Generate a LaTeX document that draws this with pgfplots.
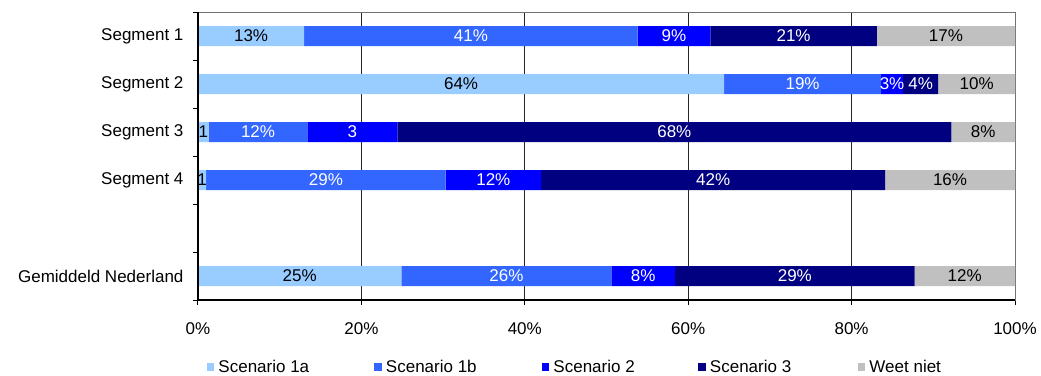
\documentclass[border=0pt]{standalone}
\usepackage{pgfplots}
\usepackage{pgfplotstable}
\pgfplotsset{compat=1.18}
\usepackage{fontspec}
\setmainfont{Liberation Sans}
\definecolor{cA}{HTML}{99CCFF}
\definecolor{cB}{HTML}{3366FF}
\definecolor{cC}{HTML}{0000FF}
\definecolor{cD}{HTML}{000080}
\definecolor{cE}{HTML}{C0C0C0}

\pgfplotstableread{
pos val lab
0 13.0 13\%
1 64.4 64\%
2 1.3 1
3 1.0 1
5 24.9 25\%
}\tA
\pgfplotstableread{
pos val lab
0 40.8 41\%
1 19.2 19\%
2 12.1 12\%
3 29.3 29\%
5 25.7 26\%
}\tB
\pgfplotstableread{
pos val lab
0 8.9 9\%
1 2.7 3\%
2 11.0 3
3 11.7 12\%
5 7.8 8\%
}\tC
\pgfplotstableread{
pos val lab
0 20.4 21\%
1 4.3 4\%
2 67.8 68\%
3 42.1 42\%
5 29.3 29\%
}\tD
\pgfplotstableread{
pos val lab
0 16.9 17\%
1 9.4 10\%
2 7.8 8\%
3 15.9 16\%
5 12.3 12\%
}\tE

\begin{document}
\begin{tikzpicture}[font=\fontsize{17}{20}\selectfont]
\useasboundingbox (-198pt,-75pt) rectangle (843pt,300pt);
\begin{axis}[
  at={(0pt,0pt)}, anchor=south west, scale only axis,
  width=817pt, height=288pt,
  xbar stacked, bar width=20pt,
  xmin=0, xmax=100, ymin=-0.5, ymax=5.5, y dir=reverse,
  xtick={0,20,...,100},
  xticklabels={0\%,20\%,40\%,60\%,80\%,100\%},
  xticklabel style={yshift=-14pt},
  ytick={-0.5,0.5,...,5.5}, yticklabels={},
  extra y ticks={0,1,2,3,4,5},
  extra y tick labels={Segment 1,Segment 2,Segment 3,Segment 4,,Gemiddeld Nederland},
  extra y tick style={major tick length=0pt, yticklabel style={xshift=-11pt}},
  tick align=outside, tick pos=left, major tick length=5pt,
  tick style={black, line width=1pt},
  xmajorgrids, major grid style={black!85, line width=0.8pt},
  axis line style={black!55, line width=0.6pt},
  point meta=explicit symbolic,
  nodes near coords,
  every node near coord/.append style={font=\fontsize{17}{20}\selectfont},
  legend style={at={(axis description cs:0.011,-0.2326)}, anchor=west,
    draw=none, fill=none, inner sep=0pt, outer sep=0pt,
    legend columns=5,
    nodes={inner sep=0pt},
    /tikz/every odd column/.append style={column sep=4pt}},
  legend image code/.code={\fill (0pt,-3.75pt) rectangle (7.5pt,3.75pt);},
  after end axis/.code={
    \draw[black, line width=1.6pt] (axis description cs:0,1) -- (axis description cs:0,0) -- (axis description cs:1,0);
  },
]
\addplot[fill=cA, draw=none, every node near coord/.append style={text=black}] table[x=val, y=pos, meta=lab] {\tA};
\addlegendentry{\makebox[156pt][l]{Scenario 1a}}
\addplot[fill=cB, draw=none, every node near coord/.append style={text=white}] table[x=val, y=pos, meta=lab] {\tB};
\addlegendentry{\makebox[156pt][l]{Scenario 1b}}
\addplot[fill=cC, draw=none, every node near coord/.append style={text=white}] table[x=val, y=pos, meta=lab] {\tC};
\addlegendentry{\makebox[145pt][l]{Scenario 2}}
\addplot[fill=cD, draw=none, every node near coord/.append style={text=white}] table[x=val, y=pos, meta=lab] {\tD};
\addlegendentry{\makebox[148pt][l]{Scenario 3}}
\addplot[fill=cE, draw=none, every node near coord/.append style={text=black}] table[x=val, y=pos, meta=lab] {\tE};
\addlegendentry{Weet niet}
\end{axis}
\end{tikzpicture}
\end{document}
